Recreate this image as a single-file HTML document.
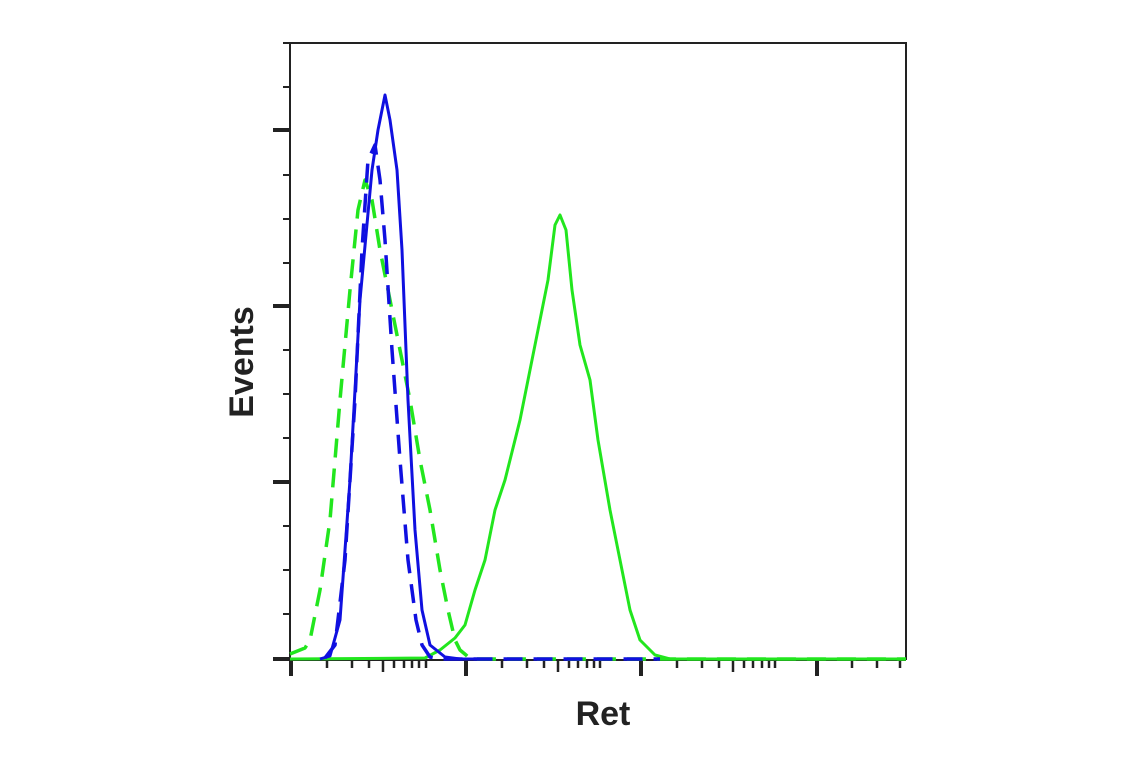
<!DOCTYPE html>
<html><head><meta charset="utf-8"><style>
html,body{margin:0;padding:0;background:#fff;}
svg{display:block;}
</style></head><body>
<svg width="1140" height="768" viewBox="0 0 1140 768" xmlns="http://www.w3.org/2000/svg">
<g stroke="#222" fill="none">
<polyline points="290,43 906,43 906,660" stroke-width="2"/>
<line x1="290" y1="43" x2="290" y2="660" stroke-width="2"/>
<line x1="290" y1="660" x2="906" y2="660" stroke-width="2"/>
<g stroke-width="2">
<line x1="283" y1="43" x2="290" y2="43"/><line x1="283" y1="87" x2="290" y2="87"/>
<line x1="283" y1="175" x2="290" y2="175"/><line x1="283" y1="219" x2="290" y2="219"/>
<line x1="283" y1="263" x2="290" y2="263"/><line x1="283" y1="350" x2="290" y2="350"/>
<line x1="283" y1="394" x2="290" y2="394"/><line x1="283" y1="438" x2="290" y2="438"/>
<line x1="283" y1="526" x2="290" y2="526"/><line x1="283" y1="570" x2="290" y2="570"/>
<line x1="283" y1="614" x2="290" y2="614"/>
</g>
<g stroke-width="4">
<line x1="273" y1="130" x2="290" y2="130"/><line x1="273" y1="306" x2="290" y2="306"/>
<line x1="273" y1="482" x2="290" y2="482"/><line x1="273" y1="659" x2="290" y2="659"/>
</g>
<g stroke-width="2.5">
<line x1="327" y1="660" x2="327" y2="668"/><line x1="352" y1="660" x2="352" y2="668"/>
<line x1="369" y1="660" x2="369" y2="668"/><line x1="383" y1="660" x2="383" y2="672"/>
<line x1="394" y1="660" x2="394" y2="668"/><line x1="404" y1="660" x2="404" y2="668"/>
<line x1="412" y1="660" x2="412" y2="668"/><line x1="419" y1="660" x2="419" y2="668"/>
<line x1="426" y1="660" x2="426" y2="668"/>
<line x1="502" y1="660" x2="502" y2="668"/><line x1="527" y1="660" x2="527" y2="668"/>
<line x1="544" y1="660" x2="544" y2="668"/><line x1="558" y1="660" x2="558" y2="672"/>
<line x1="569" y1="660" x2="569" y2="668"/><line x1="578" y1="660" x2="578" y2="668"/>
<line x1="587" y1="660" x2="587" y2="668"/><line x1="594" y1="660" x2="594" y2="668"/>
<line x1="600" y1="660" x2="600" y2="668"/>
<line x1="677" y1="660" x2="677" y2="668"/><line x1="702" y1="660" x2="702" y2="668"/>
<line x1="719" y1="660" x2="719" y2="668"/><line x1="733" y1="660" x2="733" y2="672"/>
<line x1="744" y1="660" x2="744" y2="668"/><line x1="753" y1="660" x2="753" y2="668"/>
<line x1="762" y1="660" x2="762" y2="668"/><line x1="769" y1="660" x2="769" y2="668"/>
<line x1="775" y1="660" x2="775" y2="668"/>
<line x1="852" y1="660" x2="852" y2="668"/><line x1="877" y1="660" x2="877" y2="668"/>
<line x1="900" y1="660" x2="900" y2="668"/>
</g>
<g stroke-width="4">
<line x1="291" y1="660" x2="291" y2="676"/><line x1="466" y1="660" x2="466" y2="676"/>
<line x1="641" y1="660" x2="641" y2="676"/><line x1="817" y1="660" x2="817" y2="676"/>
</g>
</g>
<g fill="none" stroke-width="3" stroke-linejoin="round">
<polyline stroke="#22e61e" points="290,659 425,658 440,650 455,638 465,625 475,590 485,560 495,510 505,480 515,440 520,420 530,370 540,320 548,280 555,225 560,215 566,230 572,290 580,345 590,380 598,440 610,510 620,560 630,610 640,640 655,655 670,659 906,659"/>
<polyline stroke="#22e61e" stroke-width="3.5" stroke-dasharray="19,11" points="290,654 300,650 305,648 310,640 320,590 330,520 340,400 350,290 358,210 365,180 372,200 380,250 390,300 400,350 410,400 420,460 430,510 440,570 448,610 455,640 460,650 466,655 470,659 906,659"/>
<polyline stroke="#1010e0" stroke-width="3.5" stroke-dasharray="19,11" points="325,658 335,645 345,560 355,400 362,250 368,160 375,145 380,180 385,240 392,350 400,460 408,560 416,620 422,645 430,657 440,659 660,659"/>
<polyline stroke="#1010e0" points="320,659 330,656 340,620 350,480 360,300 372,170 378,130 385,95 390,120 397,170 402,250 408,400 415,530 422,610 430,645 445,657 460,659 490,659"/>
</g>
<text x="603" y="725" text-anchor="middle" font-family="Liberation Sans, sans-serif" font-weight="bold" font-size="34" fill="#222">Ret</text>
<text transform="translate(253,362) rotate(-90)" text-anchor="middle" font-family="Liberation Sans, sans-serif" font-weight="bold" font-size="34" fill="#222">Events</text>
</svg>
</body></html>
